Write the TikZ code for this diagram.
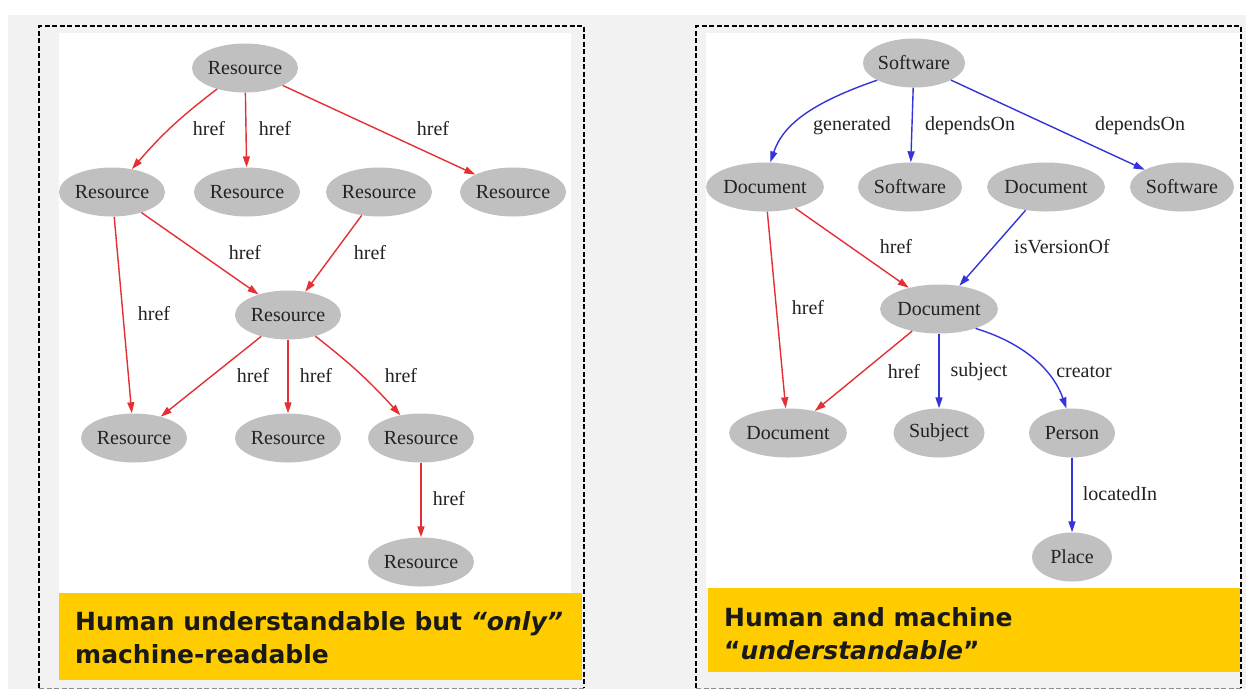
\documentclass[tikz,border=0pt]{standalone}
\usepackage{fontspec}
\setmainfont{Liberation Serif}
\newfontfamily\bannerfont{DejaVu Sans}
\usetikzlibrary{shapes.geometric,arrows.meta}

\definecolor{pagegray}{RGB}{242,242,242}
\definecolor{nodegray}{RGB}{192,192,192}
\definecolor{inkgray}{RGB}{35,35,35}
\definecolor{hrefred}{RGB}{228,48,52}
\definecolor{relblue}{RGB}{52,52,218}
\definecolor{bannergold}{RGB}{255,204,0}

\tikzset{
  gnode/.style={ellipse, fill=nodegray, draw=none, inner sep=0pt,
    minimum width=#1, minimum height=49pt, text=inkgray,
    font=\fontsize{20}{22}\selectfont},
  gnode/.default=106pt,
  lbl/.style={text=inkgray, inner sep=0pt, font=\fontsize{20}{22}\selectfont},
  redarr/.style={draw=hrefred, line width=1.4pt,
    -{Triangle[length=11pt,width=7pt,fill=hrefred]}},
  bluearr/.style={draw=relblue, line width=1.4pt,
    -{Triangle[length=11pt,width=7pt,fill=relblue]}},
  frame/.style={draw=black, line width=2.6pt, dash pattern=on 5pt off 2.5pt},
  framefoot/.style={draw=black!45, line width=1pt, dash pattern=on 5pt off 2.5pt},
  banner/.style={anchor=base west, inner sep=0pt, text=black!90,
    font=\bannerfont\bfseries\fontsize{25}{33}\selectfont}
}

\begin{document}
\begin{tikzpicture}[x=1pt,y=-1pt]
\useasboundingbox (0,0) rectangle (1246,689);
\fill[white] (0,0) rectangle (1246,689);
\fill[pagegray] (8,15) rectangle (1246,689);

% ---------- left panel: plain hyperlinks ----------
\fill[white] (59,33) rectangle (571,593);
\fill[bannergold] (58.5,593) rectangle (582,680);
\draw[frame] (39,688) -- (39,26) -- (584,26) -- (584,688);
\draw[framefoot] (39,688) -- (584,688);

\node[gnode] (r0) at (245,68)  {Resource};
\node[gnode] (r1) at (112,192) {Resource};
\node[gnode] (r2) at (247,192) {Resource};
\node[gnode] (r3) at (379,192) {Resource};
\node[gnode] (r4) at (513,192) {Resource};
\node[gnode] (r5) at (288,315) {Resource};
\node[gnode] (r6) at (134,438) {Resource};
\node[gnode] (r7) at (288,438) {Resource};
\node[gnode] (r8) at (421,438) {Resource};
\node[gnode] (r9) at (421,562) {Resource};

\draw[redarr] (r0) to[bend right=6] (r1);
\draw[redarr] (r0) -- (r2);
\draw[redarr] (r0) -- (r4);
\draw[redarr] (r1) -- (r5);
\draw[redarr] (r3) -- (r5);
\draw[redarr] (r1) -- (r6);
\draw[redarr] (r5) -- (r6);
\draw[redarr] (r5) -- (r7);
\draw[redarr] (r5) to[bend left=5] (r8);
\draw[redarr] (r8) -- (r9);

\node[lbl] (h01) at (209,129) {href};
\node[lbl] (h02) at (275,129) {href};
\node[lbl] (h04) at (433,129) {href};
\node[lbl] (h15) at (245,253) {href};
\node[lbl] (h35) at (370,253) {href};
\node[lbl] (h16) at (154,314) {href};
\node[lbl] (h56) at (253,376) {href};
\node[lbl] (h57) at (316,376) {href};
\node[lbl] (h58) at (401,376) {href};
\node[lbl] (h89) at (449,499) {href};

\node[banner] (bl1) at (75,630) {Human understandable but \itshape “only”};
\node[banner] (bl2) at (75,663) {machine-readable};

% ---------- right panel: typed relations ----------
\fill[white] (706,33) rectangle (1240,588);
\fill[bannergold] (708,588) rectangle (1240,672);
\draw[frame] (696,688) -- (696,26) -- (1241,26) -- (1241,688);
\draw[framefoot] (696,688) -- (1241,688);

\node[gnode=102pt] (s0) at (914,63)   {Software};
\node[gnode=114pt] (d1) at (765,187)  {Document};
\node[gnode=104pt] (s1) at (910,187)  {Software};
\node[gnode=116pt] (d2) at (1046,187) {Document};
\node[gnode=104pt] (s2) at (1182,187) {Software};
\node[gnode=114pt] (d3) at (939,309)  {Document};
\node[gnode=114pt] (d4) at (788,433)  {Document};
\node[gnode=91pt]  (sb) at (939,433)  {Subject};
\node[gnode=86pt]  (pe) at (1072,433) {Person};
\node[gnode=80pt]  (pl) at (1072,557) {Place};

\draw[bluearr] (s0.205) .. controls (805,105) and (782,128) .. (d1.78);
\draw[bluearr] (s0) -- (s1);
\draw[bluearr] (s0) -- (s2);
\draw[redarr]  (d1) -- (d3);
\draw[bluearr] (d2) -- (d3);
\draw[redarr]  (d1) -- (d4);
\draw[redarr]  (d3) -- (d4);
\draw[bluearr] (d3) -- (sb);
\draw[bluearr] (d3.-28) .. controls (1030,345) and (1055,375) .. (pe.103);
\draw[bluearr] (pe) -- (pl);

\node[lbl] (lgen) at (852,126)  {generated};
\node[lbl] (ldp1) at (970,126)  {dependsOn};
\node[lbl] (ldp2) at (1140,126) {dependsOn};
\node[lbl] (lh13) at (896,247)  {href};
\node[lbl] (lver) at (1062,247) {isVersionOf};
\node[lbl] (lh14) at (808,308)  {href};
\node[lbl] (lh34) at (904,372)  {href};
\node[lbl] (lsub) at (979,372)  {subject};
\node[lbl] (lcre) at (1084,372) {creator};
\node[lbl] (lloc) at (1120,494) {locatedIn};

\node[banner] (br1) at (724,626) {Human and machine};
\node[banner] (br2) at (724,659) {“\textit{understandable}”};
\end{tikzpicture}
\end{document}
